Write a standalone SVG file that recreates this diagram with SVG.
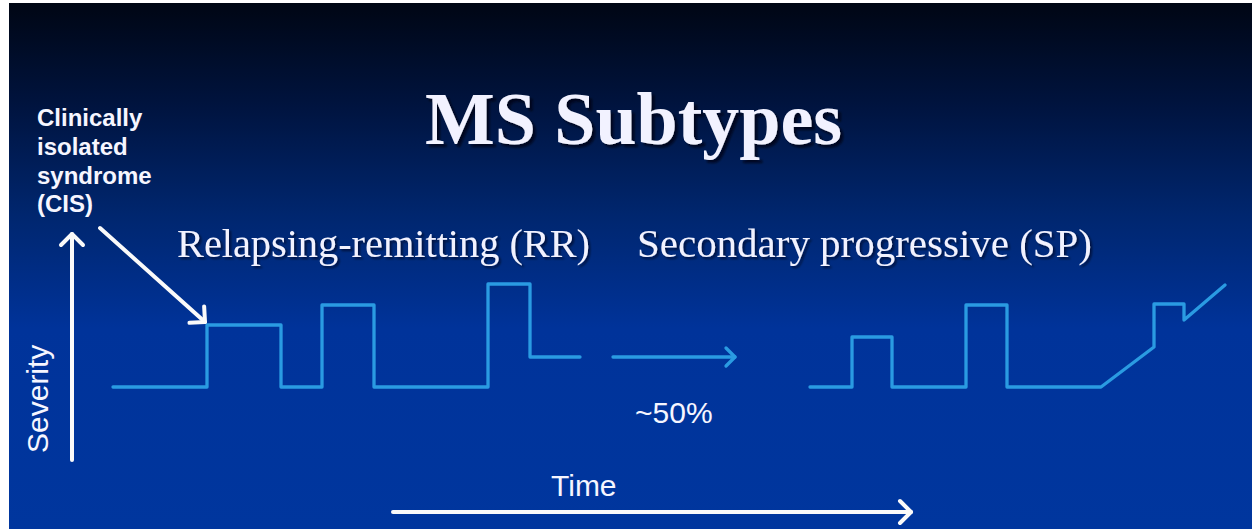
<svg xmlns="http://www.w3.org/2000/svg" width="1252" height="529" viewBox="0 0 1252 529">
<defs>
<linearGradient id="bg" x1="0" y1="0" x2="0" y2="1">
<stop offset="0" stop-color="#000614"/>
<stop offset="0.2" stop-color="#001440"/>
<stop offset="0.4" stop-color="#00266e"/>
<stop offset="0.62" stop-color="#00339a"/>
<stop offset="1" stop-color="#00369e"/>
</linearGradient>
<filter id="sh" x="-10%" y="-20%" width="130%" height="160%">
<feDropShadow dx="3" dy="3" stdDeviation="1.2" flood-color="#000010" flood-opacity="0.75"/>
</filter>
<filter id="sh2" x="-10%" y="-20%" width="130%" height="160%">
<feDropShadow dx="2" dy="2" stdDeviation="1" flood-color="#000010" flood-opacity="0.6"/>
</filter>
<marker id="wh" markerUnits="userSpaceOnUse" viewBox="-15 -15 30 30" markerWidth="30" markerHeight="30" refX="0" refY="0" orient="auto" overflow="visible">
<path d="M-11,-11 L0,0 L-11,11" fill="none" stroke="#fafafa" stroke-width="4" stroke-linecap="round" stroke-linejoin="round"/>
</marker>
<marker id="bl" markerUnits="userSpaceOnUse" viewBox="-15 -15 30 30" markerWidth="30" markerHeight="30" refX="0" refY="0" orient="auto" overflow="visible">
<path d="M-9,-9 L0,0 L-9,9" fill="none" stroke="#2a9be2" stroke-width="3.3" stroke-linecap="round" stroke-linejoin="round"/>
</marker>
</defs>
<style>
.serif{font-family:"Liberation Serif","Times New Roman",serif;fill:#f2f2ff}
.sans{font-family:"Liberation Sans",Arial,sans-serif;fill:#f6f6ff}
.wave{fill:none;stroke:#2a9be2;stroke-width:3.3;stroke-linejoin:round;stroke-linecap:round}
.warr{fill:none;stroke:#fafafa;stroke-width:4;stroke-linecap:round}
</style>
<rect x="0" y="0" width="1252" height="529" fill="#ffffff"/>
<rect x="9" y="3" width="1243" height="526" fill="url(#bg)"/>

<g id="title">
<text class="serif" x="425" y="144" font-size="74" font-weight="bold" filter="url(#sh)" textLength="417" lengthAdjust="spacingAndGlyphs">MS Subtypes</text>
</g>

<g id="cis-label">
<text class="sans" font-size="24" font-weight="bold">
<tspan x="37" y="126">Clinically</tspan>
<tspan x="37" y="155">isolated</tspan>
<tspan x="37" y="184">syndrome</tspan>
<tspan x="37" y="212">(CIS)</tspan>
</text>
</g>

<g id="rr-label">
<text class="serif" x="177" y="257" font-size="40" filter="url(#sh2)" textLength="413" lengthAdjust="spacingAndGlyphs">Relapsing-remitting (RR)</text>
</g>

<g id="sp-label">
<text class="serif" x="637" y="257" font-size="40" filter="url(#sh2)" textLength="455" lengthAdjust="spacingAndGlyphs">Secondary progressive (SP)</text>
</g>

<g id="rr-wave">
<polyline class="wave" points="113,387 207,387 207,325 281,325 281,387 322,387 322,305 374,305 374,387 488,387 488,284 530,284 530,357 580,357"/>
</g>

<g id="sp-wave">
<polyline class="wave" points="810,387 852,387 852,337 892,337 892,387 966,387 966,305 1007,305 1007,387 1101,387 1154,347 1154,304 1184,304 1184,320 1225,285"/>
</g>

<g id="severity-axis">
<text class="sans" font-size="30" transform="translate(48,453) rotate(-90)">Severity</text>
</g>

<g id="time-axis">
<text class="sans" x="551" y="496" font-size="30">Time</text>
</g>

<g id="pct-label">
<text class="sans" x="635" y="423" font-size="30">~50%</text>
</g>

<g id="connectors">
<line class="warr" x1="72" y1="460" x2="72" y2="234" marker-end="url(#wh)"/>
<line class="warr" x1="393" y1="512" x2="911" y2="512" marker-end="url(#wh)"/>
<line class="warr" x1="100" y1="228" x2="205" y2="322" stroke-width="3.5" marker-end="url(#wh)"/>
<line x1="613" y1="357" x2="735" y2="357" stroke="#2a9be2" stroke-width="3.3" stroke-linecap="round" marker-end="url(#bl)"/>
</g>
</svg>
